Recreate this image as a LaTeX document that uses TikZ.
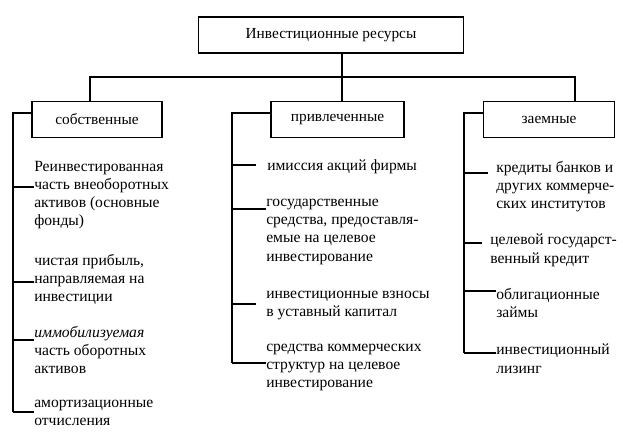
\documentclass[tikz,border=0pt]{standalone}
\usepackage{fontspec}
\setmainfont{Liberation Serif}
\begin{document}
\begin{tikzpicture}[x=0.75pt,y=-0.75pt,
  box/.style={draw,line width=0.8pt,minimum width=#1*0.75pt,inner sep=0pt,font=\fontsize{11.5}{13}\selectfont},
  item/.style={anchor=north west,align=left,inner sep=0pt,font=\fontsize{11.7}{13.6}\selectfont},
  ln/.style={line width=0.8pt}]
\useasboundingbox (0,0) rectangle (623,437);
\node[box=265,minimum height=27pt] (top) at (331,35) {Инвестиционные ресурсы};
\node[box=130,minimum height=27pt] (own) at (97,119.5) {собственные};
\node[box=133,minimum height=27pt] (att) at (337.5,119.5) {привлеченные};
\node[box=131,minimum height=27pt] (bor) at (549,119.5) {заемные};
\coordinate (jt) at (342,77);
\draw[ln] (top.south -| jt) -- (jt);
\draw[ln] (own.north -| 90,0) |- (575,77) -- (bor.north -| 575,0);
\draw[ln] (jt) -- (att.north -| jt);
% items left
\node[item] (l1) at (34,161) {Реинвестированная\\часть внеоборотных\\активов (основные\\фонды)};
\node[item] (l2) at (34,254) {чистая прибыль,\\направляемая на\\инвестиции};
\node[item] (l3) at (34,326) {\textit{иммобилизуемая}\\часть оборотных\\активов};
\node[item] (l4) at (34,400) {амортизационные\\отчисления};
\draw[ln] (own.west |- 0,113) -- (13,113) -- (13,412);
\coordinate (lb) at (13,0);
\draw[ln] (lb |- 0,187) -- (l1.west |- 0,187);
\draw[ln] (lb |- 0,282) -- (l2.west |- 0,282);
\draw[ln] (lb |- 0,340) -- (l3.west |- 0,340);
\draw[ln] (lb |- 0,412) -- (l4.west |- 0,412);
% items middle
\node[item] (m1) at (267,159) {имиссия акций фирмы};
\node[item] (m2) at (266,199) {государственные\\средства, предоставля-\\емые на целевое\\инвестирование};
\node[item] (m3) at (266,291) {инвестиционные взносы\\в уставный капитал};
\node[item] (m4) at (266,344) {средства коммерческих\\структур на целевое\\инвестирование};
\draw[ln] (att.west |- 0,113) -- (232,113) -- (232,363);
\coordinate (mb) at (232,0);
\draw[ln] (mb |- 0,165) -- (256,165);
\draw[ln] (mb |- 0,209) -- (m2.west |- 0,209);
\draw[ln] (mb |- 0,304) -- (256,304);
\draw[ln] (mb |- 0,363) -- (m4.west |- 0,363);
% items right
\node[item] (r1) at (496,161) {кредиты банков и\\других коммерче-\\ских институтов};
\node[item] (r2) at (490,234) {целевой государст-\\венный кредит};
\node[item] (r3) at (496,288) {облигационные\\займы};
\node[item] (r4) at (496,344) {инвестиционный\\лизинг};
\draw[ln] (bor.west |- 0,113) -- (464,113) -- (464,353);
\coordinate (rb) at (464,0);
\draw[ln] (rb |- 0,173) -- (488,173);
\draw[ln] (rb |- 0,243) -- (482,243);
\draw[ln] (rb |- 0,291) -- (r3.west |- 0,291);
\draw[ln] (rb |- 0,353) -- (r4.west |- 0,353);
\end{tikzpicture}
\end{document}
